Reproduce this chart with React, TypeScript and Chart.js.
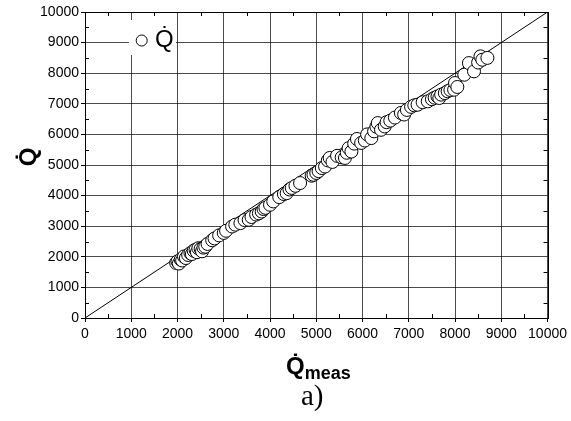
import React, { useEffect, useRef } from "react";
import { Chart, registerables } from "chart.js";
Chart.register(...registerables);

const qMeas = [1970, 2000, 2030, 2070, 2100, 2140, 2180, 2230, 2280, 2310, 2350, 2390, 2420, 2450, 2500, 2530, 2560, 2600, 2650, 2750, 2800, 2900, 3000, 3050, 3180, 3250, 3360, 3450, 3540, 3600, 3700, 3760, 3820, 3860, 3900, 4000, 4070, 4200, 4300, 4360, 4420, 4470, 4550, 4650, 4900, 4940, 5000, 5050, 5120, 5190, 5250, 5290, 5350, 5450, 5550, 5620, 5660, 5700, 5760, 5820, 5880, 5970, 6050, 6100, 6190, 6250, 6300, 6330, 6400, 6480, 6520, 6600, 6700, 6830, 6900, 6960, 7050, 7120, 7190, 7300, 7410, 7500, 7560, 7620, 7660, 7700, 7780, 7840, 7900, 7980, 8000, 8050, 8200, 8300, 8410, 8500, 8550, 8590, 8700];
const qPred = [1800, 1850, 1780, 1910, 1880, 2010, 1960, 2060, 2120, 2090, 2200, 2230, 2150, 2280, 2260, 2180, 2300, 2330, 2420, 2540, 2600, 2700, 2780, 2850, 2990, 3050, 3100, 3200, 3210, 3300, 3380, 3420, 3480, 3560, 3600, 3700, 3810, 3950, 4050, 4080, 4200, 4250, 4320, 4410, 4650, 4680, 4740, 4800, 4900, 4950, 5150, 5230, 5100, 5300, 5250, 5230, 5400, 5550, 5440, 5700, 5850, 5720, 5800, 6000, 5880, 6100, 6250, 6370, 6150, 6260, 6400, 6450, 6550, 6700, 6650, 6800, 6900, 6950, 6970, 7050, 7080, 7150, 7200, 7240, 7190, 7300, 7350, 7410, 7450, 7460, 7680, 7550, 7950, 8330, 8060, 8350, 8550, 8440, 8500];
const diagonalX = [0, 10000];
const minorTicks = [500, 1500, 2500, 3500, 4500, 5500, 6500, 7500, 8500, 9500];
const seriesLabel = "Q\u0307";
const xTitleMain = "Q\u0307";
const xTitleSub = "meas";
const yTitle = "Q\u0307";
const caption = "a)";

const decor = {
  id: "decor",
  afterDraw(chart: any) {
    const ctx = chart.ctx as CanvasRenderingContext2D;
    const { left, right, top, bottom } = chart.chartArea;
    const xs = chart.scales.x;
    const ys = chart.scales.y;
    ctx.save();
    ctx.strokeStyle = "#000";
    ctx.lineWidth = 1;
    ctx.beginPath();
    for (const v of minorTicks) {
      const px = Math.round(xs.getPixelForValue(v)) + 0.5;
      ctx.moveTo(px, bottom);
      ctx.lineTo(px, bottom - 4);
      ctx.moveTo(px, top);
      ctx.lineTo(px, top + 4);
      const py = Math.round(ys.getPixelForValue(v)) + 0.5;
      ctx.moveTo(left, py);
      ctx.lineTo(left + 4, py);
      ctx.moveTo(right, py);
      ctx.lineTo(right - 4, py);
    }
    ctx.stroke();
    ctx.strokeRect(Math.round(left) + 0.5, Math.round(top) + 0.5, Math.round(right - left), Math.round(bottom - top));

    // legend
    ctx.fillStyle = "#fff";
    ctx.fillRect(129, 20, 47, 35);
    ctx.beginPath();
    ctx.arc(141.7, 40.5, 5.5, 0, Math.PI * 2);
    ctx.fillStyle = "#fff";
    ctx.fill();
    ctx.stroke();
    ctx.fillStyle = "#000";
    ctx.textBaseline = "alphabetic";
    ctx.textAlign = "left";
    ctx.font = "24px 'Liberation Sans', Arial, sans-serif";
    ctx.fillText(seriesLabel, 155, 47);

    // x title
    ctx.font = "bold 24px 'Liberation Sans', Arial, sans-serif";
    ctx.fillText(xTitleMain, 286, 374);
    const qw = ctx.measureText("Q").width;
    ctx.font = "bold 18px 'Liberation Sans', Arial, sans-serif";
    ctx.fillText(xTitleSub, 286 + qw, 379);

    // y title
    ctx.save();
    ctx.translate(36, 157);
    ctx.rotate(-Math.PI / 2);
    ctx.font = "bold 24px 'Liberation Sans', Arial, sans-serif";
    ctx.textAlign = "center";
    ctx.fillText(yTitle, 0, 0);
    ctx.restore();

    // caption
    ctx.font = "29px 'Liberation Serif', 'Times New Roman', serif";
    ctx.textAlign = "left";
    ctx.fillText(caption, 301, 405);
    ctx.restore();
  },
};

export default function App() {
  const ref = useRef<HTMLCanvasElement>(null);
  useEffect(() => {
    if (!ref.current) return;
    const points = qMeas.map((x, i) => ({ x, y: qPred[i] }));
    const diag = diagonalX.map((v) => ({ x: v, y: v }));
    const tickFont = { family: "'Liberation Sans', Arial, sans-serif", size: 14 };
    const fmt = (v: any) => String(v);
    const chart = new Chart(ref.current, {
      type: "scatter",
      data: {
        datasets: [
          {
            label: seriesLabel,
            data: points,
            pointRadius: 6.5,
            pointBorderWidth: 1,
            pointBorderColor: "#000",
            pointBackgroundColor: "#fff",
            order: 1,
          },
          {
            label: "y = x",
            data: diag,
            showLine: true,
            pointRadius: 0,
            borderColor: "#000",
            borderWidth: 1,
            order: 2,
          },
        ],
      },
      options: {
        responsive: false,
        animation: false,
        devicePixelRatio: 1,
        layout: { padding: { top: 12, right: 21, left: 0, bottom: 0 } },
        plugins: { legend: { display: false }, tooltip: { enabled: false } },
        scales: {
          x: {
            type: "linear",
            min: 0,
            max: 10000,
            ticks: { stepSize: 1000, color: "#000", font: tickFont, padding: 4, maxRotation: 0, callback: fmt },
            grid: { color: "rgba(0,0,0,0.7)", tickColor: "#000", tickLength: 4, lineWidth: 1 },
            border: { display: true, color: "#000" },
            afterFit: (s: any) => { s.height = 103; },
          },
          y: {
            type: "linear",
            min: 0,
            max: 10000,
            ticks: { stepSize: 1000, color: "#000", font: tickFont, padding: 2, callback: fmt },
            grid: { color: "rgba(0,0,0,0.7)", tickColor: "#000", tickLength: 4, lineWidth: 1 },
            border: { display: true, color: "#000" },
            afterFit: (s: any) => { s.width = 85; },
          },
        },
      },
      plugins: [decor],
    });
    return () => chart.destroy();
  }, []);
  return (
    <div style={{ position: "fixed", left: 0, top: 0, width: 571, height: 421, background: "#fff" }}>
      <canvas ref={ref} width={571} height={421} style={{ width: 571, height: 421, display: "block" }} />
    </div>
  );
}
